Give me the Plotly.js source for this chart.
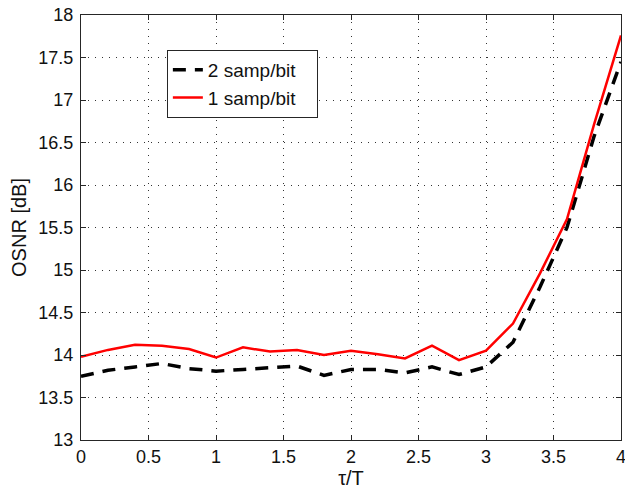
<!DOCTYPE html>
<html>
<head>
<meta charset="utf-8">
<script src="https://cdn.plot.ly/plotly-3.0.1.min.js"></script>
<style>html,body{margin:0;padding:0;background:#fff;}#chart{width:625px;height:491px;}</style>
</head>
<body>
<div id="chart"></div>
<script>
const tau = [0, 0.2, 0.4, 0.6, 0.8, 1.0, 1.2, 1.4, 1.6, 1.8, 2.0, 2.2, 2.4, 2.6, 2.8, 3.0, 3.2, 3.4, 3.6, 3.8, 4.0];
const osnr2 = [13.75, 13.82, 13.86, 13.90, 13.84, 13.81, 13.83, 13.85, 13.87, 13.76, 13.83, 13.83, 13.79, 13.86, 13.77, 13.86, 14.15, 14.80, 15.50, 16.57, 17.45];
const osnr1 = [13.98, 14.06, 14.12, 14.11, 14.07, 13.97, 14.09, 14.04, 14.06, 14.00, 14.05, 14.01, 13.96, 14.11, 13.94, 14.05, 14.37, 14.96, 15.60, 16.71, 17.76];
const seriesNames = ['2 samp/bit', '1 samp/bit'];
const xTicks = [0, 0.5, 1, 1.5, 2, 2.5, 3, 3.5, 4];
const yTicks = [13, 13.5, 14, 14.5, 15, 15.5, 16, 16.5, 17, 17.5, 18];

const font = 'Arial, "Liberation Sans", sans-serif';
const pad = '\u00a0\u00a0\u00a0';
const traces = [
  {x: tau, y: osnr2, name: seriesNames[0] + pad, mode: 'lines',
   line: {color: '#000000', width: 3.5, dash: '13px,9px'}},
  {x: tau, y: osnr1, name: seriesNames[1] + pad, mode: 'lines',
   line: {color: '#ff0000', width: 2.5}}
];
const axisCommon = {
  showline: true, linecolor: '#262626', linewidth: 1, mirror: 'ticks',
  ticks: 'inside', ticklen: 5, tickcolor: '#262626',
  showgrid: true, gridcolor: '#333333', gridwidth: 1, griddash: '1px,6px',
  zeroline: false, ticklabeloverflow: 'allow',
  tickfont: {family: font, size: 18, color: '#111'}
};
const layout = {
  width: 625, height: 491,
  margin: {l: 81, r: 4, t: 15, b: 51},
  paper_bgcolor: '#ffffff', plot_bgcolor: '#ffffff',
  showlegend: true,
  legend: {x: 0.159, y: 0.8376, xanchor: 'left', yanchor: 'middle',
    bgcolor: '#ffffff', bordercolor: '#262626', borderwidth: 1,
    font: {family: font, size: 19, color: '#111'}},
  xaxis: Object.assign({}, axisCommon, {
    range: [0, 4], tickvals: xTicks, ticktext: xTicks.map(String),
    title: {text: 'τ/T', font: {family: font, size: 20, color: '#111'}, standoff: 4}
  }),
  yaxis: Object.assign({}, axisCommon, {
    range: [13, 18], tickvals: yTicks, ticktext: yTicks.map(String),
    ticklabelstandoff: 3,
    title: {text: 'OSNR [dB]', font: {family: font, size: 20, color: '#111'}, standoff: 6}
  })
};
Plotly.newPlot('chart', traces, layout, {displayModeBar: false, staticPlot: true});
</script>
</body>
</html>
